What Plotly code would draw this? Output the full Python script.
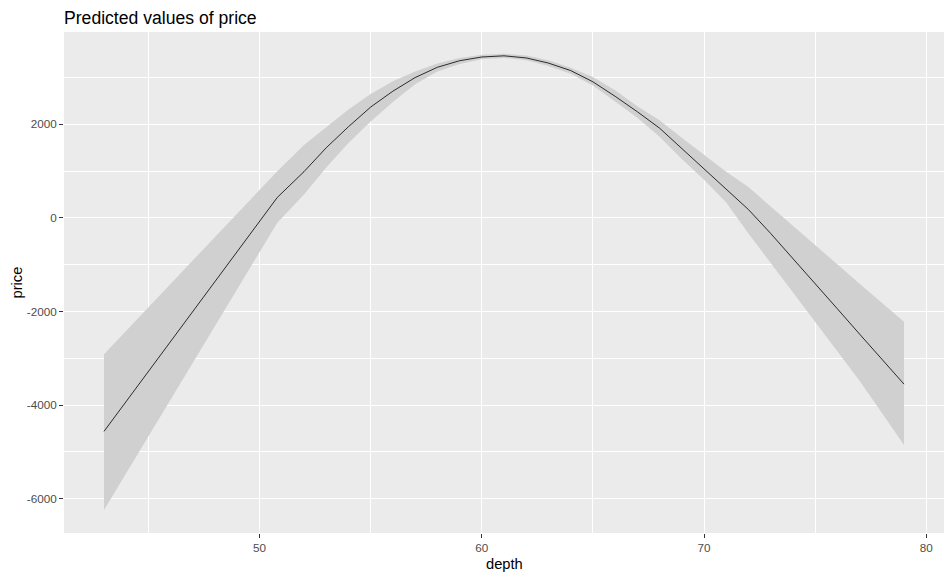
import plotly.graph_objects as go

depth = [43, 50.8, 52, 53, 54, 55, 56, 57, 58, 59, 60, 61, 62, 63, 64, 65,
         66, 67, 68, 69, 70, 71, 72, 73, 74, 75, 76, 77, 78, 79]
predicted = [-4560, 440, 990, 1500, 1950, 2370, 2710, 3000, 3220, 3360, 3440,
             3465, 3420, 3310, 3150, 2910, 2600, 2270, 1920, 1490, 1060, 630,
             180, -330, -860, -1396, -1940, -2480, -3015, -3550]
conf_high = [-2910, 1000, 1560, 1950, 2320, 2650, 2920, 3130, 3300, 3420, 3490,
             3510, 3470, 3370, 3210, 3010, 2730, 2390, 2090, 1715, 1350, 990,
             660, 252, -162, -575, -990, -1404, -1816, -2216]
conf_low = [-6240, -100, 500, 1080, 1600, 2060, 2480, 2860, 3130, 3290, 3390,
            3420, 3370, 3250, 3080, 2830, 2490, 2140, 1737, 1263, 815, 330,
            -330, -960, -1600, -2240, -2870, -3480, -4160, -4851]

x_ticks = [50, 60, 70, 80]
y_ticks = [-6000, -4000, -2000, 0, 2000]
y_tick_labels = ["-6000", "-4000", "-2000", "0", "2000"]

fig = go.Figure()
fig.add_trace(go.Scatter(x=depth, y=conf_low, mode="lines",
                         line=dict(width=0, color="rgba(0,0,0,0)"),
                         showlegend=False, hoverinfo="skip"))
fig.add_trace(go.Scatter(x=depth, y=conf_high, mode="lines", fill="tonexty",
                         fillcolor="rgb(208,208,208)",
                         line=dict(width=0, color="rgba(0,0,0,0)"),
                         showlegend=False, hoverinfo="skip"))
fig.add_trace(go.Scatter(x=depth, y=predicted, mode="lines",
                         line=dict(width=0.8, color="black"),
                         showlegend=False))

axis_common = dict(
    showgrid=True, gridcolor="white", gridwidth=1.1,
    zeroline=False, showline=False, automargin=False,
    ticks="outside", ticklen=4, tickwidth=1, tickcolor="#333333",
    tickfont=dict(family="Liberation Sans, Arial, sans-serif", size=11.7, color="#4D4D4D"),
)

# page body has an 8px margin: figure is 944x570 so the panel lands at 64..944 x 32..533
fig.update_layout(
    width=944, height=570,
    paper_bgcolor="white", plot_bgcolor="#EBEBEB",
    margin=dict(l=56, r=8, t=24, b=45),
    font=dict(family="Liberation Sans, Arial, sans-serif"),
    title=dict(text="Predicted values of price", x=0, xref="paper", xanchor="left",
               y=1 - 9.5 / 570, yref="container", yanchor="middle",
               font=dict(size=17.6, color="black")),
    xaxis=dict(range=[41.2, 80.8], tickvals=x_ticks,
               minor=dict(tickvals=[45, 55, 65, 75], showgrid=True,
                          gridcolor="white", gridwidth=0.55, ticks=""),
               **axis_common),
    yaxis=dict(range=[-6731, 3974], tickvals=y_ticks, ticktext=y_tick_labels,
               minor=dict(tickvals=[-5000, -3000, -1000, 1000, 3000], showgrid=True,
                          gridcolor="white", gridwidth=0.55, ticks=""),
               **axis_common),
    annotations=[
        dict(text="depth", x=0.5, xref="paper", y=(533 - 564) / 501, yref="paper",
             yanchor="middle", xanchor="center", showarrow=False,
             font=dict(size=14.7, color="black")),
        dict(text="price", x=(16 - 64) / 880, xref="paper", y=0.5, yref="paper",
             xanchor="center", yanchor="middle", textangle=-90, showarrow=False,
             font=dict(size=14.7, color="black")),
    ],
)

fig.write_html("out.html")
